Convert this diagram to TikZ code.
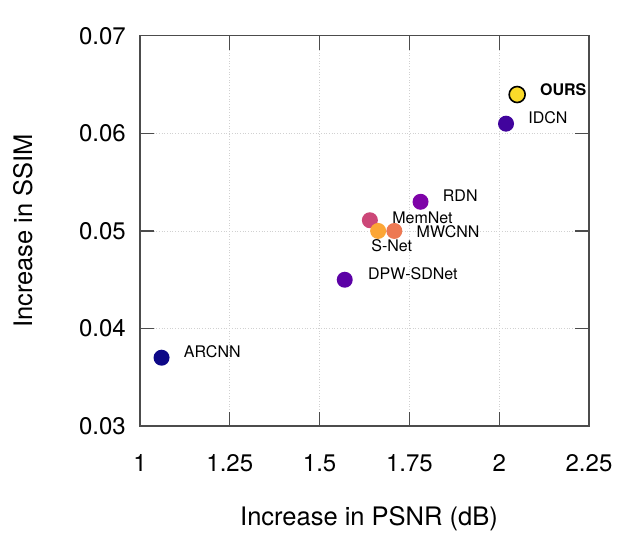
\documentclass[tikz,border=0pt]{standalone}
\usepackage{fontspec}
\setmainfont{TeX Gyre Heros}
\usepackage{xcolor}
\usepackage{tikz}
\usetikzlibrary{positioning}

\definecolor{arcnncol}{HTML}{0D0887}
\definecolor{dpwcol}{HTML}{5C01A6}
\definecolor{memnetcol}{HTML}{CC4778}
\definecolor{snetcol}{HTML}{FCA636}
\definecolor{mwcnncol}{HTML}{ED7953}
\definecolor{rdncol}{HTML}{7E03A8}
\definecolor{idcncol}{HTML}{41049D}
\definecolor{ourscol}{HTML}{FADA2A}

\begin{document}
\begin{tikzpicture}[x = 1pt, y = 1pt,
	dot/.style = {circle, inner sep = 0pt, minimum size = 16pt},
	name tag/.style = {font = \fontsize{16}{18}\selectfont, inner sep = 0pt, anchor = west},
	num/.style = {font = \fontsize{24}{28}\selectfont, inner sep = 0pt},
	axis name/.style = {font = \fontsize{25.5}{30}\selectfont, inner sep = 0pt, anchor = base},
	axis line/.style = {draw = black!70, line width = 1.1pt},
	grid line/.style = {draw = black!18, line width = 0.7pt, dash pattern = on 0.7pt off 2pt}]
	\def\tl{14pt};
	
	\useasboundingbox (0,0) rectangle (630,540);
	
	\begin{scope}[shift = {(140,114)}]
	\begin{scope}[x = 359.2pt, y = 9750pt, shift = {(-1,-0.03)}]
		\foreach \gx [count = \i] in {1.25, 1.5, 1.75, 2} {
			\draw [grid line] (\gx,0.03) -- (\gx,0.07);
			\draw [axis line] (\gx,0.03) -- ++(0pt,\tl);
			\draw [axis line] (\gx,0.07) -- ++(0pt,-\tl);
		}
		\foreach \gy in {0.04, 0.05, 0.06} {
			\draw [grid line] (1,\gy) -- (2.25,\gy);
			\draw [axis line] (1,\gy) -- ++(\tl,0pt);
			\draw [axis line] (2.25,\gy) -- ++(-\tl,0pt);
		}
		\draw [axis line] (1,0.03) rectangle (2.25,0.07);
		
		\foreach \gx [count = \i] in {1, 1.25, 1.5, 1.75, 2, 2.25}
			\node [num, anchor = north] (xtick\i) at ([yshift = -28pt]\gx,0.03) {\gx};
		\foreach \gy [count = \i] in {0.03, 0.04, 0.05, 0.06, 0.07}
			\node [num, anchor = east] (ytick\i) at ([xshift = -14pt]1,\gy) {\gy};
		
		\node [dot, fill = arcnncol] (arcnn) at (1.06,0.037) {};
		\node [dot, fill = dpwcol] (dpw) at (1.57,0.045) {};
		\node [dot, fill = memnetcol] (memnet) at (1.64,0.0511) {};
		\node [dot, fill = snetcol] (snet) at (1.663,0.05) {};
		\node [dot, fill = mwcnncol] (mwcnn) at (1.708,0.05) {};
		\node [dot, fill = rdncol] (rdn) at (1.781,0.053) {};
		\node [dot, fill = idcncol] (idcn) at (2.019,0.061) {};
		\node [dot, fill = ourscol, draw = black, line width = 1.6pt] (ours) at (2.05,0.064) {};
		
		\node [name tag, right = 14pt of arcnn, yshift = 6pt] (arcnntag) {ARCNN};
		\node [name tag, right = 15pt of dpw, yshift = 6pt] (dpwtag) {DPW-SDNet};
		\node [name tag, right = 14pt of memnet, yshift = 2.7pt] (memnettag) {MemNet};
		\node [name tag] (snettag) at ([xshift = -7pt, yshift = -15pt]snet.center) {S-Net};
		\node [name tag, right = 14pt of mwcnn, yshift = -1pt] (mwcnntag) {MWCNN};
		\node [name tag, right = 14pt of rdn, yshift = 6.5pt] (rdntag) {RDN};
		\node [name tag, right = 14pt of idcn, yshift = 6pt] (idcntag) {IDCN};
		\node [name tag, right = 14pt of ours, yshift = 5pt, font = \fontsize{16}{18}\selectfont\bfseries] (ourstag) {OURS};
	\end{scope}
	\end{scope}
	
	\node [axis name] (xname) at (369,14) {Increase in PSNR (dB)};
	\node [axis name, rotate = 90] (yname) at (32,309) {Increase in SSIM};
\end{tikzpicture}
\end{document}
